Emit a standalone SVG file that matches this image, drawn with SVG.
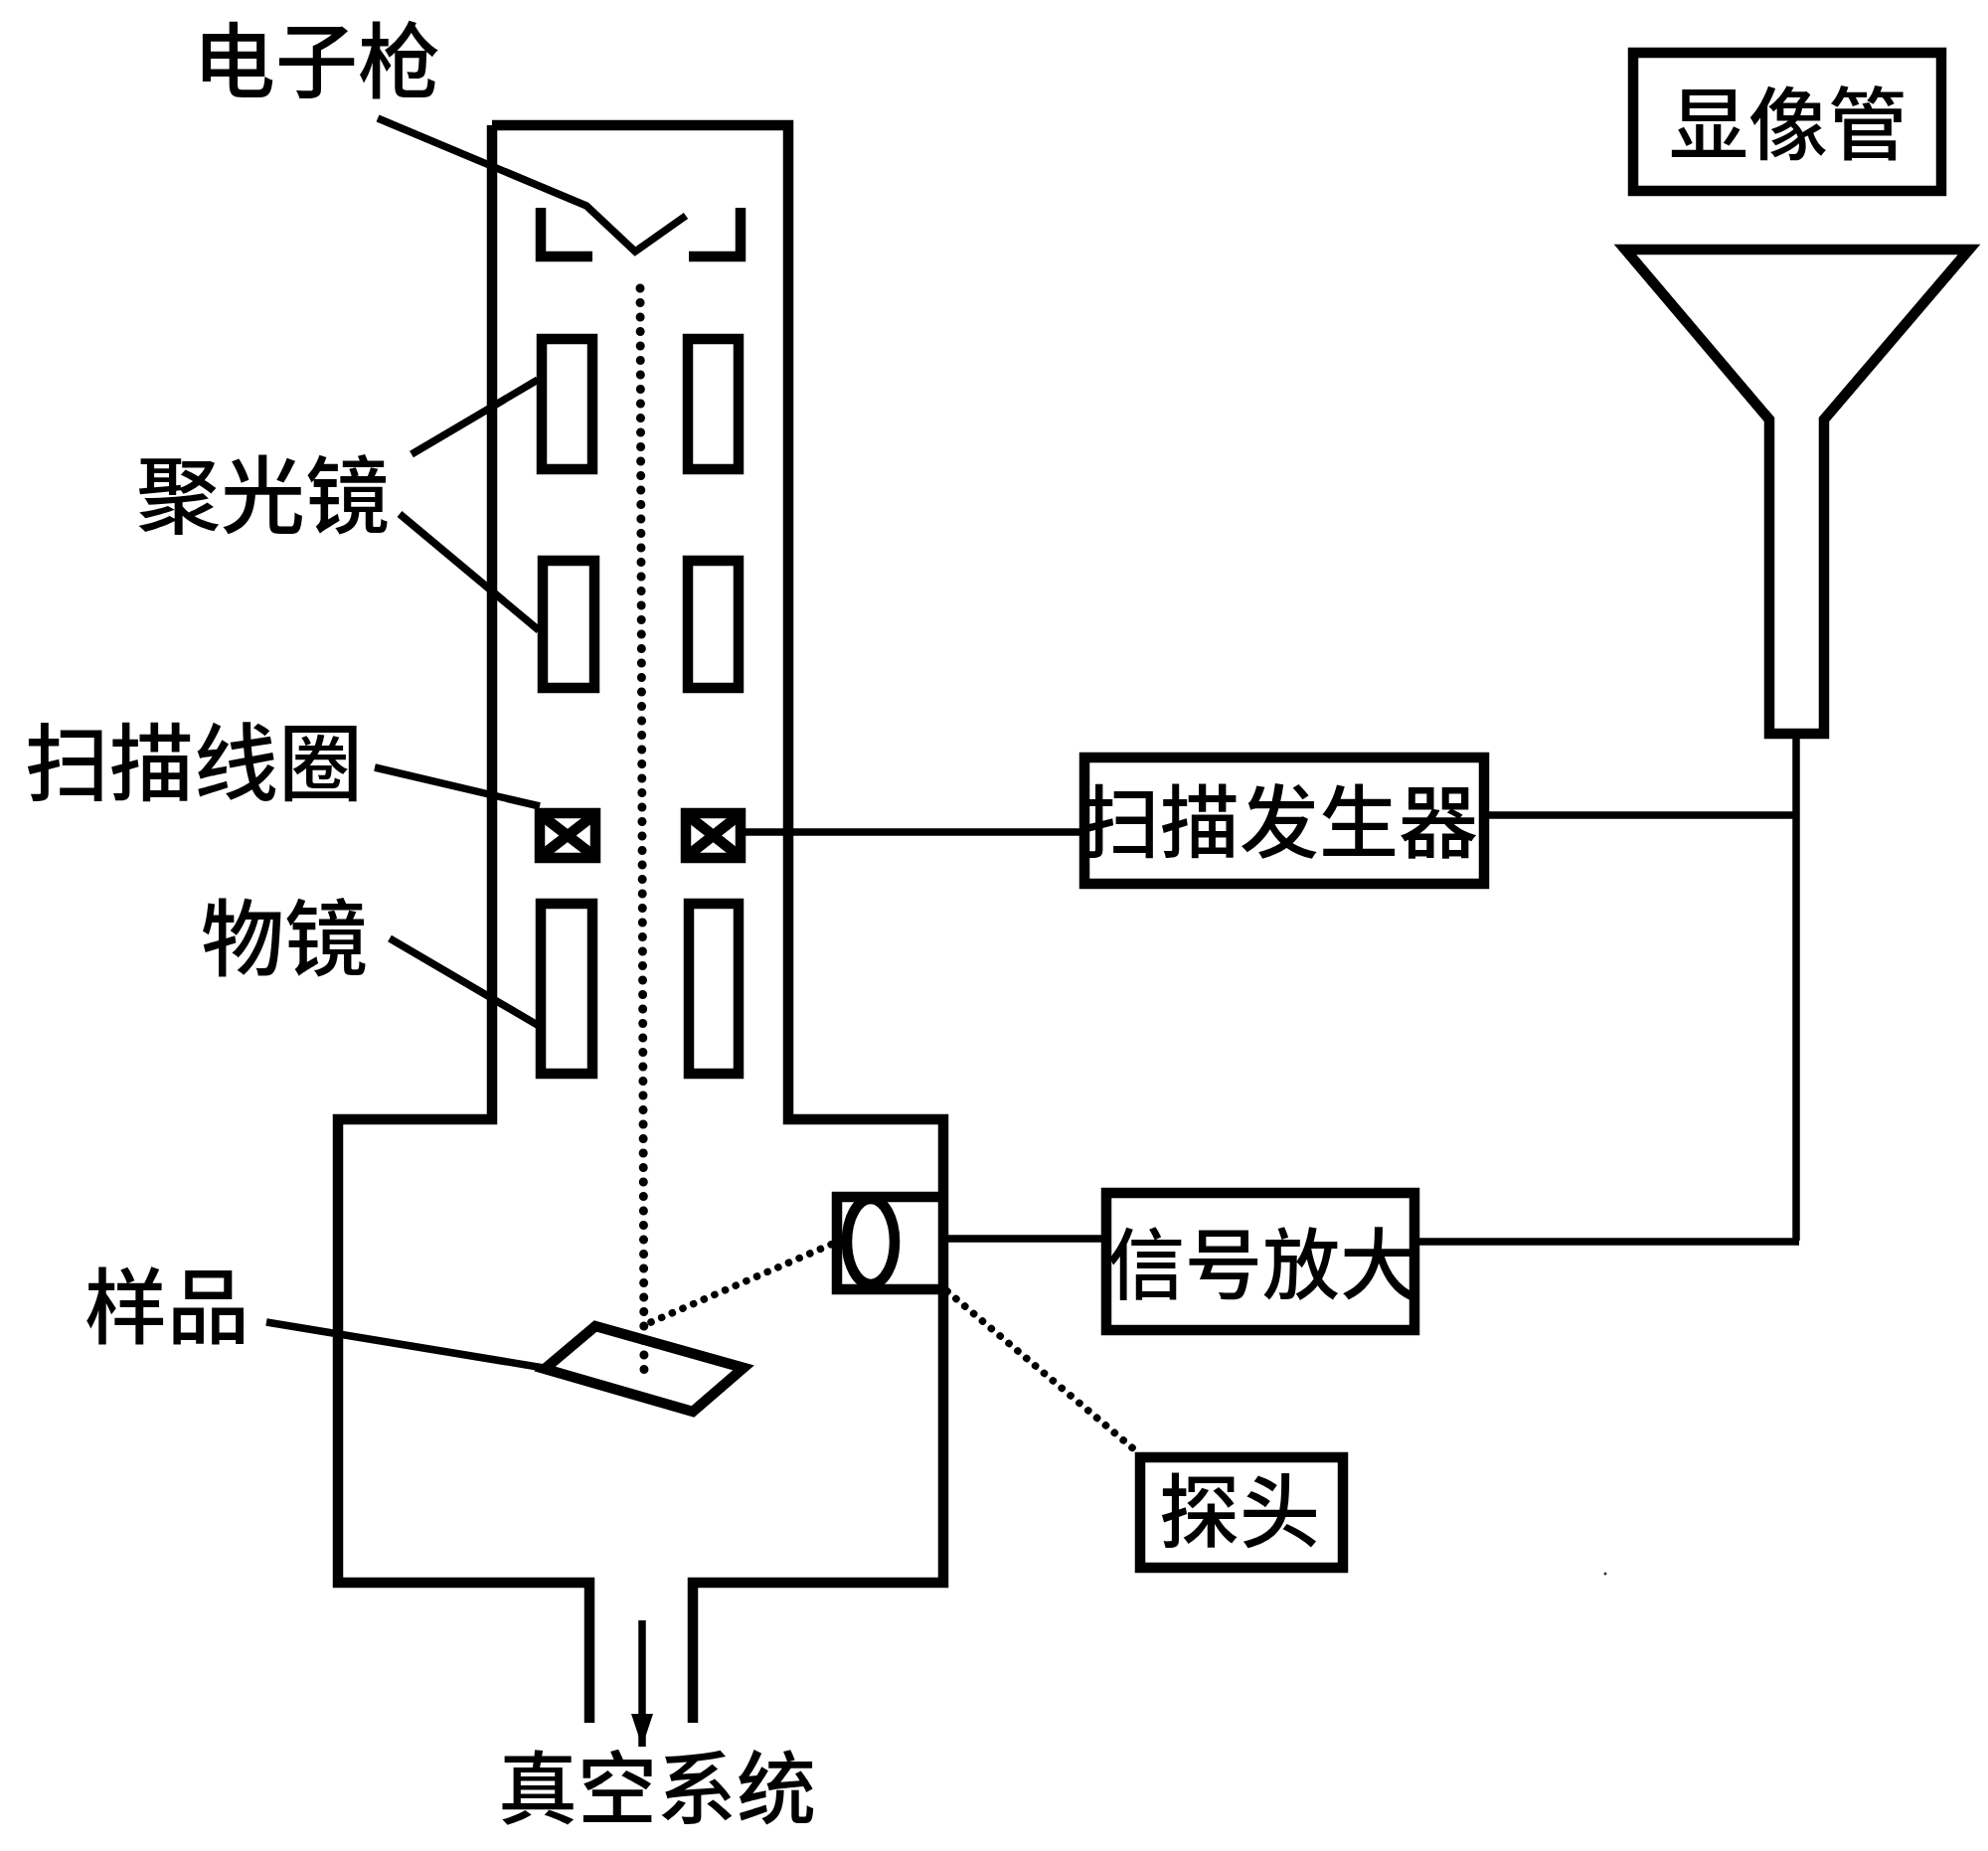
<svg xmlns="http://www.w3.org/2000/svg" width="2000" height="1862" viewBox="0 0 2000 1862">
<style>
.s{fill:none;stroke:#000;stroke-width:10.5;stroke-linejoin:miter;stroke-linecap:butt}
.b{fill:#fff;stroke:#000;stroke-width:10.5}
.l{fill:none;stroke:#000;stroke-width:7.5}
.d{fill:none;stroke:#000;stroke-width:9;stroke-linecap:round;stroke-dasharray:0.1 14.4}
.d2{fill:none;stroke:#000;stroke-width:7.5;stroke-linecap:round;stroke-dasharray:0.1 11.5}
text{font-family:"Noto Sans CJK SC","Noto Sans",sans-serif;fill:#000;font-weight:500}
</style>
<defs>
<marker id="ah" markerUnits="userSpaceOnUse" markerWidth="36" markerHeight="24" refX="33" refY="12" orient="auto" viewBox="0 0 36 24"><path d="M0 1V23L33 12Z" fill="#000"/></marker>
</defs>
<rect width="2000" height="1862" fill="#fff"/>
<g id="chamber"><path class="s" d="M495 126H793V1126H949V1592H697V1733M495 126V1126H340V1592H593V1733M340 1592H597M693 1592H697"/></g>
<g id="gun"><path class="s" d="M544 209V258H596M745 209V258H693"/></g>
<g id="condenser-1"><rect class="b" x="545" y="341" width="51" height="131"/><rect class="b" x="692" y="341" width="51" height="131"/></g>
<g id="condenser-2"><rect class="b" x="546" y="564" width="52" height="128"/><rect class="b" x="692" y="564" width="51" height="128"/></g>
<g id="scan-coil-left"><rect class="b" x="543" y="818" width="56" height="45"/><path class="s" d="M547 822L595 859M595 822L547 859"/></g>
<g id="scan-coil-right"><rect class="b" x="690" y="818" width="55" height="45"/><path class="s" d="M694 822L741 859M741 822L694 859"/></g>
<g id="objective"><rect class="b" x="544" y="909" width="52" height="171"/><rect class="b" x="693" y="909" width="50" height="171"/></g>
<g id="detector"><path class="s" stroke-width="7" d="M949 1204H842V1297H949"/><ellipse class="s" cx="876" cy="1249" rx="24" ry="43"/></g>
<g id="sample"><path class="s" d="M548 1377L599 1334L748 1376L697 1420Z"/></g>
<g id="crt"><path class="s" d="M1635 251H1981L1835 422V738H1780V422Z"/></g>
<g id="connectors">
<path class="l" stroke-width="8" d="M380 119L590 207L639 253L690 217"/>
<path class="l" d="M414 457L541 382M402 517L542 634M377 772L543 811M392 944L544 1033M268 1330L547 1376"/>
<path class="l" d="M749 837H1087M1494 820H1807M1807 738V1248M949 1246H1111M1425 1249H1810"/>
<path class="d" d="M644 290L648 1385"/>
<path class="d2" d="M655 1330L838 1251M953 1299L1141 1458"/>
<path class="l" d="M646 1630V1757" marker-end="url(#ah)"/>
</g>
<g id="display-tube"><rect class="b" x="1643" y="53" width="310" height="139"/><text x="1679" y="154" font-size="80">显像管</text></g>
<g id="scan-generator"><rect class="b" x="1091" y="762" width="402" height="127"/><text x="1087" y="856" font-size="80">扫描发生器</text></g>
<g id="signal-amp"><rect class="b" x="1113" y="1200" width="310" height="138"/><text x="1114" y="1301" font-size="78">信号放大</text></g>
<g id="probe"><rect class="b" x="1147" y="1466" width="204" height="111"/><text x="1166" y="1550" font-size="81">探头</text></g>
<text x="194" y="92" font-size="83">电子枪</text>
<text x="137" y="530" font-size="85">聚光镜</text>
<text x="25" y="799" font-size="85">扫描线圈</text>
<text x="202" y="975" font-size="84">物镜</text>
<text x="85" y="1345" font-size="83">样品</text>
<text x="501" y="1828" font-size="80">真空系统</text>
<circle cx="1615" cy="1583" r="1.5" fill="#333"/>
</svg>
